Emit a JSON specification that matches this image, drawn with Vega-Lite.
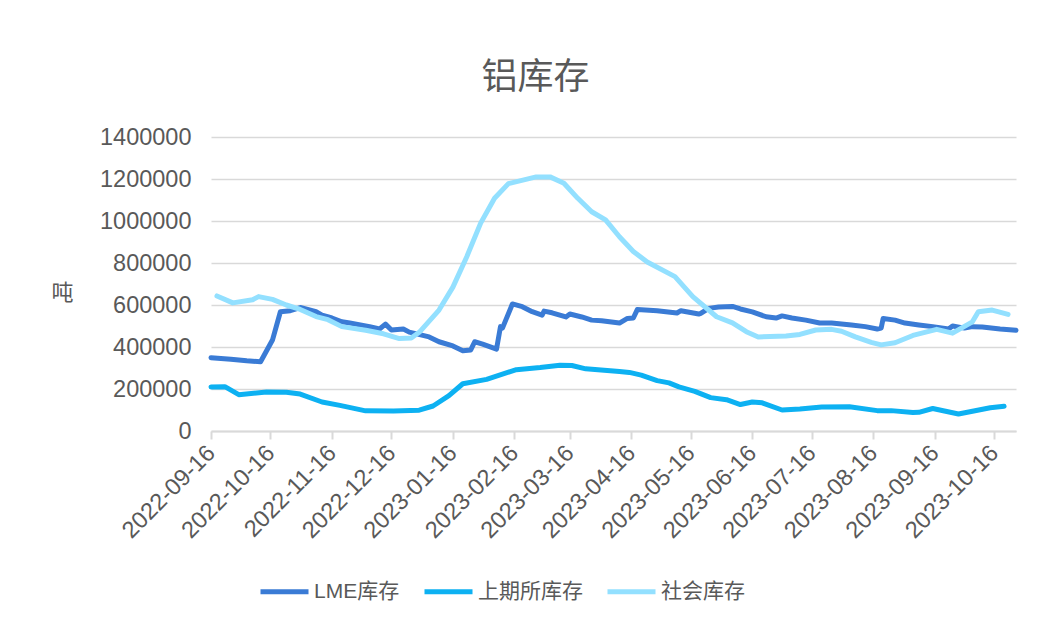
{
  "$schema": "https://vega.github.io/schema/vega-lite/v6.json",
  "width": 805,
  "height": 294,
  "autosize": {"type": "none"},
  "padding": {"left": 211, "top": 137, "right": 44, "bottom": 209},
  "background": "#ffffff",
  "config": {
    "font": "Liberation Sans, Noto Sans CJK SC",
    "view": {"stroke": null},
    "axis": {"labelColor": "#595959", "titleColor": "#595959", "labelFont": "Liberation Sans, Noto Sans CJK SC", "titleFont": "Noto Sans CJK SC, Liberation Sans"},
    "legend": {"labelFont": "Liberation Sans, Noto Sans CJK SC"}
  },
  "title": {
    "text": "铝库存",
    "fontSize": 36,
    "fontWeight": "normal",
    "color": "#595959",
    "font": "Noto Sans CJK SC",
    "anchor": "middle",
    "dx": -78,
    "offset": 28
  },
  "data": {
    "values": [
      {"date": "2022-09-16", "series": "LME库存", "value": 349000},
      {"date": "2022-09-26", "series": "LME库存", "value": 342000},
      {"date": "2022-10-04", "series": "LME库存", "value": 334000},
      {"date": "2022-10-11", "series": "LME库存", "value": 330000},
      {"date": "2022-10-17", "series": "LME库存", "value": 433000},
      {"date": "2022-10-21", "series": "LME库存", "value": 568000},
      {"date": "2022-10-26", "series": "LME库存", "value": 573000},
      {"date": "2022-10-31", "series": "LME库存", "value": 588000},
      {"date": "2022-11-08", "series": "LME库存", "value": 568000},
      {"date": "2022-11-11", "series": "LME库存", "value": 552000},
      {"date": "2022-11-16", "series": "LME库存", "value": 538000},
      {"date": "2022-11-21", "series": "LME库存", "value": 520000},
      {"date": "2022-11-25", "series": "LME库存", "value": 514000},
      {"date": "2022-12-05", "series": "LME库存", "value": 497000},
      {"date": "2022-12-10", "series": "LME库存", "value": 486000},
      {"date": "2022-12-13", "series": "LME库存", "value": 509000},
      {"date": "2022-12-16", "series": "LME库存", "value": 481000},
      {"date": "2022-12-22", "series": "LME库存", "value": 486000},
      {"date": "2022-12-25", "series": "LME库存", "value": 471000},
      {"date": "2023-01-04", "series": "LME库存", "value": 448000},
      {"date": "2023-01-09", "series": "LME库存", "value": 425000},
      {"date": "2023-01-16", "series": "LME库存", "value": 405000},
      {"date": "2023-01-21", "series": "LME库存", "value": 382000},
      {"date": "2023-01-25", "series": "LME库存", "value": 386000},
      {"date": "2023-01-27", "series": "LME库存", "value": 425000},
      {"date": "2023-01-31", "series": "LME库存", "value": 414000},
      {"date": "2023-02-07", "series": "LME库存", "value": 390000},
      {"date": "2023-02-09", "series": "LME库存", "value": 497000},
      {"date": "2023-02-10", "series": "LME库存", "value": 490000},
      {"date": "2023-02-15", "series": "LME库存", "value": 605000},
      {"date": "2023-02-20", "series": "LME库存", "value": 592000},
      {"date": "2023-02-25", "series": "LME库存", "value": 568000},
      {"date": "2023-03-02", "series": "LME库存", "value": 552000},
      {"date": "2023-03-03", "series": "LME库存", "value": 571000},
      {"date": "2023-03-07", "series": "LME库存", "value": 563000},
      {"date": "2023-03-14", "series": "LME库存", "value": 543000},
      {"date": "2023-03-16", "series": "LME库存", "value": 557000},
      {"date": "2023-03-22", "series": "LME库存", "value": 543000},
      {"date": "2023-03-27", "series": "LME库存", "value": 528000},
      {"date": "2023-04-01", "series": "LME库存", "value": 525000},
      {"date": "2023-04-10", "series": "LME库存", "value": 514000},
      {"date": "2023-04-14", "series": "LME库存", "value": 536000},
      {"date": "2023-04-17", "series": "LME库存", "value": 538000},
      {"date": "2023-04-19", "series": "LME库存", "value": 578000},
      {"date": "2023-04-29", "series": "LME库存", "value": 573000},
      {"date": "2023-05-09", "series": "LME库存", "value": 562000},
      {"date": "2023-05-11", "series": "LME库存", "value": 573000},
      {"date": "2023-05-20", "series": "LME库存", "value": 557000},
      {"date": "2023-05-21", "series": "LME库存", "value": 560000},
      {"date": "2023-05-25", "series": "LME库存", "value": 584000},
      {"date": "2023-05-30", "series": "LME库存", "value": 590000},
      {"date": "2023-06-06", "series": "LME库存", "value": 593000},
      {"date": "2023-06-10", "series": "LME库存", "value": 581000},
      {"date": "2023-06-16", "series": "LME库存", "value": 567000},
      {"date": "2023-06-23", "series": "LME库存", "value": 544000},
      {"date": "2023-06-28", "series": "LME库存", "value": 538000},
      {"date": "2023-07-01", "series": "LME库存", "value": 548000},
      {"date": "2023-07-06", "series": "LME库存", "value": 538000},
      {"date": "2023-07-13", "series": "LME库存", "value": 528000},
      {"date": "2023-07-20", "series": "LME库存", "value": 514000},
      {"date": "2023-07-26", "series": "LME库存", "value": 514000},
      {"date": "2023-08-05", "series": "LME库存", "value": 505000},
      {"date": "2023-08-12", "series": "LME库存", "value": 497000},
      {"date": "2023-08-18", "series": "LME库存", "value": 486000},
      {"date": "2023-08-20", "series": "LME库存", "value": 490000},
      {"date": "2023-08-21", "series": "LME库存", "value": 536000},
      {"date": "2023-08-27", "series": "LME库存", "value": 528000},
      {"date": "2023-09-01", "series": "LME库存", "value": 514000},
      {"date": "2023-09-08", "series": "LME库存", "value": 505000},
      {"date": "2023-09-15", "series": "LME库存", "value": 497000},
      {"date": "2023-09-23", "series": "LME库存", "value": 486000},
      {"date": "2023-09-25", "series": "LME库存", "value": 500000},
      {"date": "2023-10-01", "series": "LME库存", "value": 490000},
      {"date": "2023-10-05", "series": "LME库存", "value": 497000},
      {"date": "2023-10-10", "series": "LME库存", "value": 495000},
      {"date": "2023-10-19", "series": "LME库存", "value": 486000},
      {"date": "2023-10-27", "series": "LME库存", "value": 480000},

      {"date": "2022-09-16", "series": "上期所库存", "value": 210000},
      {"date": "2022-09-23", "series": "上期所库存", "value": 211000},
      {"date": "2022-09-30", "series": "上期所库存", "value": 173000},
      {"date": "2022-10-14", "series": "上期所库存", "value": 186000},
      {"date": "2022-10-24", "series": "上期所库存", "value": 185000},
      {"date": "2022-10-31", "series": "上期所库存", "value": 176000},
      {"date": "2022-11-11", "series": "上期所库存", "value": 138000},
      {"date": "2022-11-20", "series": "上期所库存", "value": 122000},
      {"date": "2022-12-03", "series": "上期所库存", "value": 96000},
      {"date": "2022-12-17", "series": "上期所库存", "value": 95000},
      {"date": "2022-12-30", "series": "上期所库存", "value": 99000},
      {"date": "2023-01-06", "series": "上期所库存", "value": 119000},
      {"date": "2023-01-14", "series": "上期所库存", "value": 168000},
      {"date": "2023-01-21", "series": "上期所库存", "value": 225000},
      {"date": "2023-02-02", "series": "上期所库存", "value": 246000},
      {"date": "2023-02-17", "series": "上期所库存", "value": 292000},
      {"date": "2023-03-01", "series": "上期所库存", "value": 302000},
      {"date": "2023-03-11", "series": "上期所库存", "value": 313000},
      {"date": "2023-03-17", "series": "上期所库存", "value": 312000},
      {"date": "2023-03-24", "series": "上期所库存", "value": 296000},
      {"date": "2023-04-10", "series": "上期所库存", "value": 283000},
      {"date": "2023-04-15", "series": "上期所库存", "value": 279000},
      {"date": "2023-04-21", "series": "上期所库存", "value": 266000},
      {"date": "2023-04-29", "series": "上期所库存", "value": 240000},
      {"date": "2023-05-05", "series": "上期所库存", "value": 229000},
      {"date": "2023-05-10", "series": "上期所库存", "value": 210000},
      {"date": "2023-05-18", "series": "上期所库存", "value": 189000},
      {"date": "2023-05-26", "series": "上期所库存", "value": 159000},
      {"date": "2023-06-03", "series": "上期所库存", "value": 149000},
      {"date": "2023-06-10", "series": "上期所库存", "value": 126000},
      {"date": "2023-06-16", "series": "上期所库存", "value": 138000},
      {"date": "2023-06-21", "series": "上期所库存", "value": 134000},
      {"date": "2023-07-01", "series": "上期所库存", "value": 100000},
      {"date": "2023-07-10", "series": "上期所库存", "value": 105000},
      {"date": "2023-07-21", "series": "上期所库存", "value": 114000},
      {"date": "2023-08-04", "series": "上期所库存", "value": 115000},
      {"date": "2023-08-18", "series": "上期所库存", "value": 97000},
      {"date": "2023-08-25", "series": "上期所库存", "value": 97000},
      {"date": "2023-09-05", "series": "上期所库存", "value": 88000},
      {"date": "2023-09-08", "series": "上期所库存", "value": 89000},
      {"date": "2023-09-15", "series": "上期所库存", "value": 107000},
      {"date": "2023-09-28", "series": "上期所库存", "value": 81000},
      {"date": "2023-10-14", "series": "上期所库存", "value": 111000},
      {"date": "2023-10-21", "series": "上期所库存", "value": 118000},

      {"date": "2022-09-19", "series": "社会库存", "value": 643000},
      {"date": "2022-09-27", "series": "社会库存", "value": 610000},
      {"date": "2022-10-07", "series": "社会库存", "value": 625000},
      {"date": "2022-10-10", "series": "社会库存", "value": 640000},
      {"date": "2022-10-17", "series": "社会库存", "value": 627000},
      {"date": "2022-10-24", "series": "社会库存", "value": 600000},
      {"date": "2022-10-31", "series": "社会库存", "value": 579000},
      {"date": "2022-11-08", "series": "社会库存", "value": 545000},
      {"date": "2022-11-14", "series": "社会库存", "value": 530000},
      {"date": "2022-11-21", "series": "社会库存", "value": 497000},
      {"date": "2022-12-03", "series": "社会库存", "value": 480000},
      {"date": "2022-12-12", "series": "社会库存", "value": 463000},
      {"date": "2022-12-20", "series": "社会库存", "value": 440000},
      {"date": "2022-12-26", "series": "社会库存", "value": 443000},
      {"date": "2022-12-30", "series": "社会库存", "value": 470000},
      {"date": "2023-01-09", "series": "社会库存", "value": 576000},
      {"date": "2023-01-16", "series": "社会库存", "value": 685000},
      {"date": "2023-01-23", "series": "社会库存", "value": 830000},
      {"date": "2023-01-30", "series": "社会库存", "value": 990000},
      {"date": "2023-02-06", "series": "社会库存", "value": 1108000},
      {"date": "2023-02-13", "series": "社会库存", "value": 1178000},
      {"date": "2023-02-27", "series": "社会库存", "value": 1210000},
      {"date": "2023-03-06", "series": "社会库存", "value": 1210000},
      {"date": "2023-03-13", "series": "社会库存", "value": 1180000},
      {"date": "2023-03-20", "series": "社会库存", "value": 1108000},
      {"date": "2023-03-27", "series": "社会库存", "value": 1044000},
      {"date": "2023-04-03", "series": "社会库存", "value": 1005000},
      {"date": "2023-04-10", "series": "社会库存", "value": 925000},
      {"date": "2023-04-17", "series": "社会库存", "value": 855000},
      {"date": "2023-04-24", "series": "社会库存", "value": 805000},
      {"date": "2023-05-08", "series": "社会库存", "value": 735000},
      {"date": "2023-05-17", "series": "社会库存", "value": 640000},
      {"date": "2023-05-29", "series": "社会库存", "value": 544000},
      {"date": "2023-06-06", "series": "社会库存", "value": 515000},
      {"date": "2023-06-13", "series": "社会库存", "value": 473000},
      {"date": "2023-06-19", "series": "社会库存", "value": 448000},
      {"date": "2023-07-03", "series": "社会库存", "value": 452000},
      {"date": "2023-07-10", "series": "社会库存", "value": 460000},
      {"date": "2023-07-18", "series": "社会库存", "value": 481000},
      {"date": "2023-07-26", "series": "社会库存", "value": 484000},
      {"date": "2023-07-31", "series": "社会库存", "value": 475000},
      {"date": "2023-08-07", "series": "社会库存", "value": 448000},
      {"date": "2023-08-15", "series": "社会库存", "value": 422000},
      {"date": "2023-08-20", "series": "社会库存", "value": 410000},
      {"date": "2023-08-27", "series": "社会库存", "value": 420000},
      {"date": "2023-09-05", "series": "社会库存", "value": 455000},
      {"date": "2023-09-17", "series": "社会库存", "value": 484000},
      {"date": "2023-09-25", "series": "社会库存", "value": 466000},
      {"date": "2023-10-05", "series": "社会库存", "value": 520000},
      {"date": "2023-10-08", "series": "社会库存", "value": 568000},
      {"date": "2023-10-15", "series": "社会库存", "value": 576000},
      {"date": "2023-10-23", "series": "社会库存", "value": 555000}
    ]
  },
  "mark": {"type": "line", "strokeWidth": 5, "strokeCap": "round", "strokeJoin": "round", "clip": false},
  "encoding": {
    "x": {
      "field": "date",
      "type": "temporal",
      "scale": {
        "type": "utc",
        "domain": [
          {"year": 2022, "month": 9, "date": 16, "utc": true},
          {"year": 2023, "month": 10, "date": 27, "utc": true}
        ]
      },
      "axis": {
        "title": null,
        "values": [
          {"year": 2022, "month": 9, "date": 16, "utc": true},
          {"year": 2022, "month": 10, "date": 16, "utc": true},
          {"year": 2022, "month": 11, "date": 16, "utc": true},
          {"year": 2022, "month": 12, "date": 16, "utc": true},
          {"year": 2023, "month": 1, "date": 16, "utc": true},
          {"year": 2023, "month": 2, "date": 16, "utc": true},
          {"year": 2023, "month": 3, "date": 16, "utc": true},
          {"year": 2023, "month": 4, "date": 16, "utc": true},
          {"year": 2023, "month": 5, "date": 16, "utc": true},
          {"year": 2023, "month": 6, "date": 16, "utc": true},
          {"year": 2023, "month": 7, "date": 16, "utc": true},
          {"year": 2023, "month": 8, "date": 16, "utc": true},
          {"year": 2023, "month": 9, "date": 16, "utc": true},
          {"year": 2023, "month": 10, "date": 16, "utc": true}
        ],
        "labelExpr": "utcFormat(datum.value, '%Y-%m-%d')",
        "labelAngle": -45,
        "labelAlign": "right",
        "labelBaseline": "middle",
        "labelFontSize": 23.5,
        "labelPadding": 10,
        "labelOverlap": false,
        "labelFlush": false,
        "grid": false,
        "domainColor": "#d9d9d9",
        "domainWidth": 2,
        "tickColor": "#d9d9d9",
        "tickWidth": 2,
        "tickSize": 8
      }
    },
    "y": {
      "field": "value",
      "type": "quantitative",
      "scale": {"domain": [0, 1400000], "nice": false},
      "axis": {
        "title": "吨",
        "titleAngle": 0,
        "titleFontSize": 22,
        "titleFontWeight": "normal",
        "titleAlign": "center",
        "titleBaseline": "middle",
        "titleX": -149,
        "titleY": 155,
        "values": [0, 200000, 400000, 600000, 800000, 1000000, 1200000, 1400000],
        "format": "d",
        "labelFontSize": 23.5,
        "labelPadding": 20,
        "domain": false,
        "ticks": false,
        "grid": true,
        "gridColor": "#d9d9d9",
        "gridWidth": 1.5
      }
    },
    "color": {
      "field": "series",
      "type": "nominal",
      "scale": {
        "domain": ["LME库存", "上期所库存", "社会库存"],
        "range": ["#3a7bd5", "#0db1f2", "#93e0ff"]
      },
      "legend": {
        "title": null,
        "orient": "none",
        "direction": "horizontal",
        "legendX": 47,
        "legendY": 428,
        "symbolType": "stroke",
        "symbolSize": 2304,
        "symbolStrokeWidth": 5,
        "labelFontSize": 21,
        "labelColor": "#595959",
        "labelOffset": 3,
        "columnPadding": 14,
        "padding": 0
      }
    },
    "order": {"field": "date"}
  }
}
